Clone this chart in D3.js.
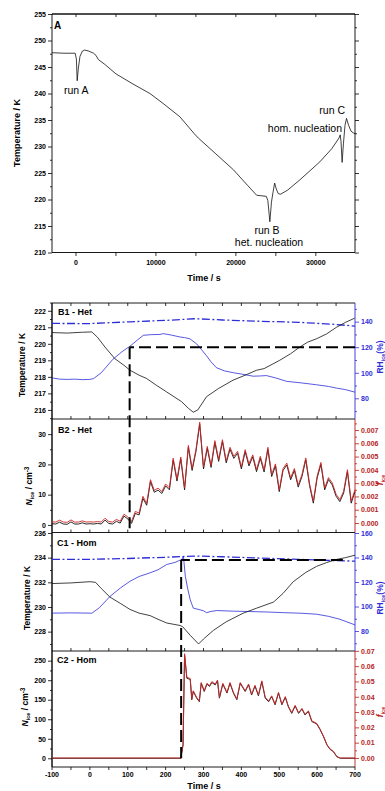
<!DOCTYPE html>
<html>
<head>
<meta charset="utf-8">
<script src="https://cdn.jsdelivr.net/npm/d3@7"></script>
<style>
body { margin: 0; background: #fff; }
svg text { font-family: "Liberation Sans", Arial, sans-serif; }
</style>
</head>
<body>
<div id="chart"></div>
<script>
// ---- data ----
// panel A: chamber temperature over the whole experiment [time s, T K]
var tempA = [[-3000,247.7],[-1500,247.6],[-100,247.6],[50,246.5],[150,242.4],[300,244.8],[500,247.0],[800,248.0],
  [1100,248.2],[1600,248.0],[2200,247.6],[2500,247.2],[2800,246.4],[3600,245.5],[5000,243.7],[7000,241.9],
  [9250,240.0],[11000,238.0],[13000,235.6],[14800,232.4],[15300,231.6],[17500,228.6],[19700,225.6],[21500,222.6],
  [22600,220.8],[23800,220.6],[24000,219.8],[24250,215.8],[24450,219.5],[24650,221.4],[24850,223.1],[25050,222.0],
  [25300,221.1],[25600,221.0],[26500,221.8],[28000,223.7],[30500,227.1],[32000,229.6],[32900,231.6],[33050,232.2],
  [33150,231.0],[33290,227.0],[33450,230.5],[33650,234.0],[33840,235.3],[34100,234.0],[34400,232.9],[34660,232.6],[34900,232.4]];

// B1 (heterogeneous run): temperature, RH ice (solid), RH ice of saturation line (dash-dot)
var tempB1 = [[-100,220.68],[-60,220.65],[-20,220.7],[5,220.72],[20,220.4],[40,219.8],[66,219.1],[90,218.7],[106,218.4],
  [130,218.1],[150,217.9],[175,217.5],[202,217.1],[242,216.5],[260,216.1],[273,215.86],[285,216.0],[308,216.8],[340,217.3],
  [378,217.8],[410,218.1],[440,218.4],[460,218.5],[501,219.0],[530,219.4],[554,219.8],[575,220.1],[598,220.3],[625,220.6],
  [651,221.0],[675,221.3],[699,221.55]];
var rhB1 = [[-100,96],[-80,95],[-60,94.8],[-40,95],[-20,94.6],[0,94.8],[10,95.5],[30,100],[61,110.6],[85,116.5],[106,120.8],
  [125,125.5],[141,129.3],[160,129.8],[185,130],[194,130.6],[215,129.5],[238,128],[250,127.5],[264,126.6],[282,122.6],
  [295,118],[308,113.3],[320,108.5],[334,104],[355,101.5],[379,100],[400,99],[431,97.3],[450,97.5],[466,97.8],[490,96],
  [519,93.3],[560,92],[598,90.6],[630,89.3],[651,88],[675,86.8],[700,84.8]];
var rhSatB1 = [[-100,138.6],[0,138.5],[106,139.9],[200,141],[280,142.3],[350,141.3],[450,140.3],[550,139.5],[640,138],[700,136.5]];

// B2: ice number concentration (cm-3) and ice fraction, 10 s steps from -100 to 700 s
var nIceB2 = [0.4,0.3,0.9,0.3,0.2,1.0,0.3,0.3,0.7,0.3,0.4,0.3,0.5,0.3,1.6,0.5,0.3,1.2,0.6,2.9,2.0,0.5,3.8,3.3,8.8,6.5,
  14.3,10.8,11.5,10.4,12.9,11.6,21.4,14.5,21.8,11.6,25.6,18,24.2,33.3,18.5,25.3,19,27.2,21,27.5,20.5,25,22,23.7,18.5,24.2,
  19.5,22.5,17.6,22,17.5,25,16,19.5,11,18,19.8,14.9,18,12.5,16,21.5,13,7.2,15.5,20,11.6,15,13.2,9.5,7.7,10.5,17.6,7.2,11];
var fIceB2 = [0.00009,0.00007,0.00021,0.00007,0.00005,0.00023,0.00007,0.00007,0.00016,0.00007,0.00009,0.00007,0.00011,
  0.00007,0.00036,0.00011,0.00007,0.00027,0.00014,0.00066,0.00046,0.00011,0.00087,0.00075,0.00201,0.00148,0.00326,0.00246,
  0.00262,0.00237,0.00294,0.00264,0.00488,0.00331,0.00497,0.00264,0.00584,0.0041,0.00552,0.00759,0.00422,0.00577,0.00433,
  0.0062,0.00479,0.00627,0.00467,0.0057,0.00502,0.0054,0.00422,0.00552,0.00445,0.00513,0.00401,0.00502,0.00399,0.0057,
  0.00365,0.00445,0.00251,0.0041,0.00451,0.0034,0.0041,0.00285,0.00365,0.0049,0.00296,0.00164,0.00353,0.00456,0.00264,
  0.00342,0.00301,0.00217,0.00176,0.00239,0.00401,0.00164,0.00251];
var timeB2 = d3.range(-100, 701, 10);

// C1 (homogeneous run)
var tempC1 = [[-100,231.9],[-50,231.95],[0,232.05],[15,232.0],[30,231.5],[53,230.8],[80,230.3],[106,229.8],[130,229.5],
  [159,229.3],[180,229],[203,228.7],[238,228.5],[245,228.4],[265,227.7],[287,227.0],[300,227.4],[326,228.1],[360,228.8],
  [405,229.5],[440,229.9],[485,230.4],[510,231.1],[537,232.05],[570,232.8],[599,233.3],[625,233.6],[650,233.85],[675,234.0],[700,234.2]];
var rhC1 = [[-100,94.6],[-50,94.8],[0,94.6],[5,94.5],[25,99],[53,108.2],[80,115],[106,120.6],[130,124.5],[159,127.5],
  [180,130],[203,134.3],[225,136],[243,138.5],[247,141],[252,124.7],[258,115],[265,105.5],[273,98.7],[291,97.3],[300,96.5],
  [308,95],[320,96],[335,96.7],[380,96.2],[423,95.9],[470,95.5],[511,95],[560,94.5],[599,93.7],[630,92],[660,89.6],[700,85]];
var rhSatC1 = [[-100,138.4],[0,138.5],[100,139.2],[200,140.2],[280,141.2],[350,140.6],[450,139.5],[550,138.5],[640,137.5],[700,137]];

// C2
var timeC2 = [-100,240,246,250,256,265,269,273,282,289,294,302,309,316,322,331,337,342,351,362,370,379,388,397,410,419,
  427,436,445,454,463,472,480,489,498,507,516,524,533,542,551,560,568,577,586,599,608,617,626,634,643,652,661,700];
var nIceC2 = [0,0,34,265,205,202,150,171,154,145,192,171,190,184,194,188,198,154,190,167,192,167,150,192,171,188,
  162,185,160,196,154,145,158,137,167,137,156,132,115,134,115,126,111,120,94,88,73,55,34,23,17,4,0,0];
var fIceC2 = [0,0,0.0087,0.0681,0.0527,0.0519,0.0386,0.0439,0.0396,0.0373,0.0493,0.0439,0.0488,0.0473,0.0499,0.0483,
  0.0509,0.0396,0.0488,0.0429,0.0493,0.0429,0.0386,0.0493,0.0439,0.0483,0.0416,0.0475,0.0411,0.0504,0.0396,0.0373,
  0.0406,0.0352,0.0429,0.0352,0.0401,0.0339,0.0296,0.0344,0.0296,0.0324,0.0285,0.0308,0.0242,0.0226,0.0188,0.0141,
  0.0087,0.0059,0.0044,0.0010,0,0];

// onset markers: time of nucleation, RH_ice threshold
var onsetB = {t: 105, rh: 120, n: -1.1};
var onsetC = {t: 241, rh: 138, n: 0, tEnd: 668};

var blue = '#2e2ed8', red = '#cf2424', redAxis = '#b81c1c';

var svg = d3.select('#chart').append('svg')
    .attr('width', 385)
    .attr('height', 791);

var L = 52, R = 355;
var xA = d3.scaleLinear().domain([-3000, 34900]).range([L, R]);
var x = d3.scaleLinear().domain([-100, 700]).range([L, R]);

var yA = d3.scaleLinear().domain([210, 255]).range([252.5, 14]);
var yB1 = d3.scaleLinear().domain([215.45, 222.47]).range([419, 303]);
var rB1 = d3.scaleLinear().domain([63.8, 154.6]).range([419, 303]);
var yB2 = d3.scaleLinear().domain([-2.5, 35]).range([532.5, 419]);
var rB2 = d3.scaleLinear().domain([-0.000715, 0.00783]).range([532.5, 419]);
var yC1 = d3.scaleLinear().domain([226.43, 236.04]).range([651, 532.5]);
var rC1 = d3.scaleLinear().domain([63.7, 160.4]).range([651, 532.5]);
var yC2 = d3.scaleLinear().domain([-22.3, 274.8]).range([767, 651]);
var rC2 = d3.scaleLinear().domain([-0.0059, 0.0699]).range([767, 651]);

function plain(d) { return String(d); }
function fixed(n) { return function(d) { return d.toFixed(n); }; }

function styleAxis(g, color) {
    g.select('.domain').remove();
    g.attr('font-family', null).attr('font-size', null);
    g.selectAll('line').attr('stroke', color).attr('stroke-width', 0.8);
    g.selectAll('text')
        .attr('fill', color)
        .attr('font-size', 7)
        .attr('font-weight', 'bold');
}

// vertical axis with major (labelled) and minor ticks
function yAxis(scale, side, major, minor, color, fmt) {
    var make = side == 'left' ? d3.axisLeft : d3.axisRight;
    var xp = side == 'left' ? L : R;
    var g = svg.append('g').attr('transform', 'translate(' + xp + ',0)');
    g.call(make(scale).tickValues(major).tickSize(4).tickPadding(2).tickFormat(fmt));
    styleAxis(g, color);
    var gm = svg.append('g').attr('transform', 'translate(' + xp + ',0)');
    gm.call(make(scale).tickValues(minor).tickSize(2).tickFormat(''));
    styleAxis(gm, color);
    var r = scale.range();
    svg.append('line')
        .attr('x1', xp).attr('x2', xp)
        .attr('y1', r[0]).attr('y2', r[1])
        .attr('stroke', color).attr('stroke-width', 0.9);
}

// horizontal line with ticks (dir: 1 = down, -1 = up)
function xTicks(scale, yp, values, size, dir) {
    svg.append('line')
        .attr('x1', L).attr('x2', R).attr('y1', yp).attr('y2', yp)
        .attr('stroke', '#000').attr('stroke-width', 0.9);
    svg.selectAll(null).data(values).enter().append('line')
        .attr('x1', function(d) { return scale(d); })
        .attr('x2', function(d) { return scale(d); })
        .attr('y1', yp).attr('y2', yp + dir * size)
        .attr('stroke', '#000').attr('stroke-width', 0.8);
}

function drawLine(data, xs, ys, color, width, dash) {
    svg.append('path')
        .datum(data)
        .attr('fill', 'none')
        .attr('stroke', color)
        .attr('stroke-width', width)
        .attr('stroke-dasharray', dash || null)
        .attr('stroke-linejoin', 'round')
        .attr('d', d3.line().x(function(d) { return xs(d[0]); }).y(function(d) { return ys(d[1]); }));
}

function addText(xp, yp, str, size, weight, anchor, color) {
    return svg.append('text')
        .attr('x', xp).attr('y', yp)
        .attr('font-size', size)
        .attr('font-weight', weight || 'normal')
        .attr('text-anchor', anchor || 'start')
        .attr('fill', color || '#000')
        .text(str);
}

function vLabel(xp, yp, parts, size, color) {
    var t = svg.append('text')
        .attr('transform', 'translate(' + xp + ',' + yp + ') rotate(-90)')
        .attr('text-anchor', 'middle')
        .attr('font-size', size)
        .attr('font-weight', 'bold')
        .attr('fill', color);
    parts.forEach(function(p) {
        t.append('tspan')
            .attr('dy', p.dy || 0)
            .attr('font-size', p.size || null)
            .attr('font-style', p.italic ? 'italic' : null)
            .text(p.s);
    });
}

var zip = function(ts, vs) { return ts.map(function(t, i) { return [t, vs[i]]; }); };

// ================= panel A =================
svg.append('line').attr('x1', L).attr('x2', R).attr('y1', 14).attr('y2', 14)
    .attr('stroke', '#000').attr('stroke-width', 0.9);
xTicks(xA, 14, d3.range(0, 35000, 5000), 3, 1);
xTicks(xA, 252.5, d3.range(0, 35000, 5000), 3.5, 1);
yAxis(yA, 'left', d3.range(210, 256, 5), d3.range(212.5, 255, 5), '#000', plain);
yAxis(yA, 'right', d3.range(210, 256, 5), d3.range(212.5, 255, 5), '#000', '');
svg.selectAll(null).data([0, 10000, 20000, 30000]).enter().append('text')
    .attr('x', function(d) { return xA(d); })
    .attr('y', 265)
    .attr('text-anchor', 'middle')
    .attr('font-size', 7).attr('font-weight', 'bold')
    .text(plain);

drawLine(tempA, xA, yA, '#111', 0.8);

addText(54, 28.5, 'A', 10, 'bold');
addText(64, 93.5, 'run A', 10.5);
addText(345, 113.5, 'run C', 10.5, 'normal', 'end');
addText(342, 131.5, 'hom. nucleation', 10.5, 'normal', 'end');
addText(267, 233.5, 'run B', 10.5, 'normal', 'middle');
addText(269, 245.5, 'het. nucleation', 10.5, 'normal', 'middle');
addText(204, 281, 'Time / s', 9, 'bold', 'middle');
vLabel(20, 133, [{s: 'Temperature / K'}], 9, '#000');

// ================= panels B / C frames =================
var minor50 = d3.range(-50, 700, 50);
xTicks(x, 303, minor50, 3, 1);
xTicks(x, 419, minor50, 3, -1);
xTicks(x, 532.5, minor50, 3, -1);
xTicks(x, 651, minor50, 3, -1);
xTicks(x, 767, d3.range(-100, 701, 50), 3, 1);
svg.append('line').attr('x1', L).attr('x2', L).attr('y1', 303).attr('y2', 767)
    .attr('stroke', '#000').attr('stroke-width', 0.9);

svg.selectAll(null).data(d3.range(-100, 701, 100)).enter().append('text')
    .attr('x', function(d) { return x(d); })
    .attr('y', 776.5)
    .attr('text-anchor', 'middle')
    .attr('font-size', 7).attr('font-weight', 'bold')
    .text(plain);
addText(204, 789, 'Time / s', 9, 'bold', 'middle');

// B1
yAxis(yB1, 'left', d3.range(216, 223, 1), d3.range(215.5, 222.6, 1), '#000', plain);
yAxis(rB1, 'right', [80, 100, 120, 140], [70, 90, 110, 130, 150], blue, plain);
drawLine(rhSatB1, x, rB1, blue, 1.3, '8,2.5,2,2.5');
drawLine(rhB1, x, rB1, blue, 0.8);
drawLine(tempB1, x, yB1, '#111', 0.8);

// B2
yAxis(yB2, 'left', [0, 10, 20, 30], [5, 15, 25], '#000', plain);
yAxis(rB2, 'right', [0, 0.001, 0.002, 0.003, 0.004, 0.005, 0.006, 0.007],
    [0.0005, 0.0015, 0.0025, 0.0035, 0.0045, 0.0055, 0.0065, 0.0075], redAxis, fixed(3));
drawLine(zip(timeB2, nIceB2), x, yB2, '#111', 0.9);
drawLine(zip(timeB2, fIceB2), x, rB2, red, 0.9);

// C1
yAxis(yC1, 'left', [228, 230, 232, 234, 236], [227, 229, 231, 233, 235], '#000', plain);
yAxis(rC1, 'right', [80, 100, 120, 140, 160], [70, 90, 110, 130, 150], blue, plain);
drawLine(rhSatC1, x, rC1, blue, 1.3, '8,2.5,2,2.5');
drawLine(rhC1, x, rC1, blue, 0.8);
drawLine(tempC1, x, yC1, '#111', 0.8);

// C2
yAxis(yC2, 'left', [0, 50, 100, 150, 200, 250], [25, 75, 125, 175, 225], '#000', plain);
yAxis(rC2, 'right', [0, 0.01, 0.02, 0.03, 0.04, 0.05, 0.06, 0.07],
    [0.005, 0.015, 0.025, 0.035, 0.045, 0.055, 0.065], redAxis, fixed(2));
drawLine(zip(timeC2, nIceC2), x, yC2, '#111', 0.9);
drawLine(zip(timeC2, fIceC2), x, rC2, red, 0.9);

// onset guides
var dash = '12,5';
svg.append('path').attr('fill', 'none').attr('stroke', '#000').attr('stroke-width', 2).attr('stroke-dasharray', dash)
    .attr('d', 'M' + R + ',' + rB1(onsetB.rh) + 'H' + x(onsetB.t));
svg.append('path').attr('fill', 'none').attr('stroke', '#000').attr('stroke-width', 2).attr('stroke-dasharray', dash)
    .attr('d', 'M' + x(onsetB.t) + ',' + rB1(onsetB.rh) + 'V' + yB2(onsetB.n));
svg.append('path').attr('fill', 'none').attr('stroke', '#000').attr('stroke-width', 2).attr('stroke-dasharray', dash)
    .attr('d', 'M' + x(onsetC.tEnd) + ',' + rC1(onsetC.rh) + 'H' + x(onsetC.t));
svg.append('path').attr('fill', 'none').attr('stroke', '#000').attr('stroke-width', 2).attr('stroke-dasharray', dash)
    .attr('d', 'M' + x(onsetC.t) + ',' + rC1(onsetC.rh) + 'V' + yC2(onsetC.n));

// panel titles
addText(58, 315, 'B1 - Het', 9, 'bold');
addText(58, 432.5, 'B2 - Het', 9, 'bold');
addText(57, 546, 'C1 - Hom', 9, 'bold');
addText(57, 663, 'C2 - Hom', 9, 'bold');

// axis titles
vLabel(25, 365, [{s: 'Temperature / K'}], 8.5, '#000');
vLabel(30, 598, [{s: 'Temperature / K'}], 8.5, '#000');
var nParts = [{s: 'N', italic: true}, {s: 'ice', size: 5.5, dy: 2}, {s: ' / cm', dy: -2}, {s: '-3', size: 6.5, dy: -3.5}];
vLabel(32, 486, nParts, 8.5, '#000');
vLabel(28, 707, nParts, 8.5, '#000');
var rhParts = [{s: 'RH'}, {s: 'ice', size: 5.5, dy: 2}, {s: '(%)', dy: -2}];
vLabel(383, 357, rhParts, 8.5, blue);
vLabel(383, 598, rhParts, 8.5, blue);
var fParts = [{s: 'f', italic: true}, {s: 'ice', size: 5.5, dy: 2}];
vLabel(383, 480, fParts, 8.5, redAxis);
vLabel(383, 712, fParts, 8.5, redAxis);
</script>
</body>
</html>
